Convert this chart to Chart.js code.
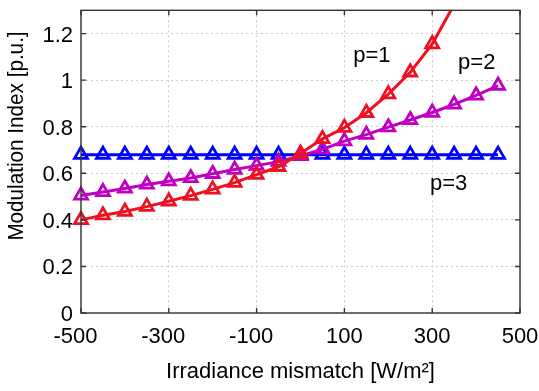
<!DOCTYPE html>
<html>
<head>
<meta charset="utf-8">
<script src="https://cdn.jsdelivr.net/npm/chart.js@4.4.1/dist/chart.umd.min.js"></script>
<style>
html,body{margin:0;padding:0;background:#fff;}
#wrap{width:539px;height:391px;position:relative;}
</style>
</head>
<body>
<div id="wrap"><canvas id="c" width="539" height="391"></canvas></div>
<script>
// ---- data ----
const mismatch = [-500,-450,-400,-350,-300,-250,-200,-150,-100,-50,0,50,100,150,200,250,300,350,400,450];
const p1 = [0.40,0.42,0.436,0.457,0.48,0.504,0.531,0.56,0.594,0.628,0.685,0.748,0.796,0.86,0.94,1.034,1.155,1.325,1.50,1.69];
const p2 = [0.505,0.52,0.535,0.552,0.566,0.58,0.598,0.616,0.633,0.65,0.675,0.703,0.738,0.766,0.798,0.829,0.861,0.896,0.935,0.977];
const p3 = [0.68,0.68,0.68,0.68,0.68,0.68,0.68,0.68,0.68,0.68,0.68,0.68,0.68,0.68,0.68,0.68,0.68,0.68,0.68,0.68];
const xTicks = [-500,-300,-100,100,300,500];
const yTicks = [0,0.2,0.4,0.6,0.8,1,1.2];
const seriesLabels = ['p=1','p=2','p=3'];
const labelPos = [[120,1.077],[359,1.048],[295,0.527]];
const xTitle = 'Irradiance mismatch [W/m²]';
const yTitle = 'Modulation Index [p.u.]';

const FONT = "'Liberation Sans', Arial, sans-serif";
const colors = ['#ee1122','#c000c0','#0000ff'];

function pts(ys){ return mismatch.map((x,i)=>({x:x,y:ys[i]})); }

const datasets = [p1,p2,p3].map((d,i)=>({
  label: seriesLabels[i],
  data: pts(d),
  borderColor: colors[i],
  backgroundColor: 'rgba(255,255,255,0)',
  borderWidth: 3,
  pointStyle: 'triangle',
  pointRadius: 7.5,
  pointBorderWidth: 2.8,
  pointBorderColor: colors[i],
  pointBackgroundColor: 'rgba(255,255,255,0)',
  tension: 0,
  clip: {left: 20, right: 20, top: 0, bottom: 10}
}));

function noPad(s){ s.paddingLeft = 0; s.paddingRight = 0; s.paddingTop = 0; s.paddingBottom = 0; }

const boxPlugin = {
  id: 'boxPlugin',
  afterDatasetsDraw(chart){
    const {ctx, chartArea:a, scales} = chart;
    ctx.save();
    ctx.strokeStyle = '#333333';
    ctx.lineWidth = 1.4;
    ctx.setLineDash([]);
    ctx.strokeRect(a.left, a.top, a.right-a.left, a.bottom-a.top);
    const tl = 5;
    ctx.beginPath();
    xTicks.forEach(v=>{
      const x = scales.x.getPixelForValue(v);
      ctx.moveTo(x, a.bottom); ctx.lineTo(x, a.bottom - tl);
      ctx.moveTo(x, a.top); ctx.lineTo(x, a.top + tl);
    });
    yTicks.forEach(v=>{
      const y = scales.y.getPixelForValue(v);
      ctx.moveTo(a.left, y); ctx.lineTo(a.left + tl, y);
      ctx.moveTo(a.right, y); ctx.lineTo(a.right - tl, y);
    });
    ctx.stroke();
    ctx.fillStyle = '#000';
    ctx.font = '22px ' + FONT;
    ctx.textAlign = 'left';
    ctx.textBaseline = 'alphabetic';
    seriesLabels.forEach((t,i)=>{
      ctx.fillText(t, scales.x.getPixelForValue(labelPos[i][0]), scales.y.getPixelForValue(labelPos[i][1]));
    });
    ctx.save();
    ctx.translate(17, 136);
    ctx.rotate(-Math.PI/2);
    ctx.scale(0.94, 1);
    ctx.textAlign = 'center';
    ctx.textBaseline = 'middle';
    ctx.fillText(yTitle, 0, 0);
    ctx.restore();
    ctx.restore();
  }
};

new Chart(document.getElementById('c'), {
  type: 'line',
  data: { datasets: datasets },
  options: {
    responsive: false,
    animation: false,
    devicePixelRatio: 1,
    layout: { padding: { top: 5, right: 19, left: 0, bottom: 0 } },
    plugins: { legend: { display: false }, tooltip: { enabled: false } },
    scales: {
      x: {
        type: 'linear',
        min: -500, max: 500,
        afterBuildTicks(s){ s.ticks = xTicks.map(v=>({value:v})); },
        afterFit(s){ s.height = 78; noPad(s); },
        ticks: { color: '#000', font: { family: FONT, size: 22 }, padding: 11, maxRotation: 0, autoSkip: false,
          callback: v => v < 0 ? String(v) + '\u2002' : String(v) },
        grid: { color: '#cccccc', lineWidth: 1, drawTicks: false },
        border: { display: false, dash: [2,3] },
        title: { display: true, text: xTitle, color: '#000', font: { family: FONT, size: 22 }, padding: { top: 0, bottom: 6 } }
      },
      y: {
        type: 'linear',
        min: 0, max: 1.3,
        afterBuildTicks(s){ s.ticks = yTicks.map(v=>({value:v})); },
        afterFit(s){ s.width = 81; noPad(s); },
        ticks: { color: '#000', font: { family: FONT, size: 22 }, padding: 8, labelOffset: 2, autoSkip: false,
          callback: v => String(Math.round(v*10)/10) },
        grid: { color: '#cccccc', lineWidth: 1, drawTicks: false },
        border: { display: false, dash: [2,3] },
        title: { display: false }
      }
    }
  },
  plugins: [boxPlugin]
});
</script>
</body>
</html>
